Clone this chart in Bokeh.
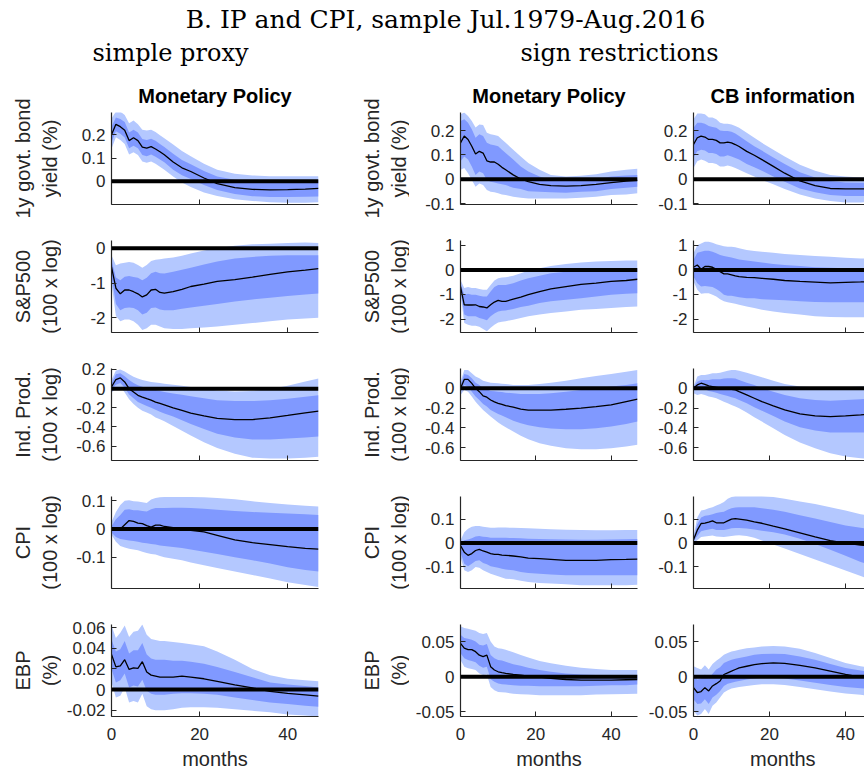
import math
from bokeh.plotting import figure
from bokeh.layouts import row, column
from bokeh.models import Range1d, FixedTicker, Span
from bokeh.core.properties import value
from bokeh.embed import file_html
from bokeh.resources import INLINE

# ---------------- data (horizon in months) ----------------
H = [0, 1, 2, 3, 4, 5, 6, 7, 8, 9, 10, 11, 12, 14, 16, 18, 21, 24, 28, 32, 36, 40, 44, 47]

# 1y govt. bond yield -- simple proxy
yld_sp_med = [0.200,0.245,0.235,0.220,0.175,0.187,0.175,0.147,0.143,0.149,0.139,0.127,0.114,0.083,0.058,0.042,0.014,-0.010,-0.027,-0.035,-0.037,-0.036,-0.034,-0.031]
yld_sp_hi90 = [0.270,0.300,0.300,0.285,0.250,0.262,0.245,0.222,0.218,0.222,0.212,0.198,0.185,0.158,0.130,0.108,0.075,0.050,0.032,0.025,0.022,0.022,0.022,0.022]
yld_sp_hi68 = [0.235,0.275,0.268,0.255,0.210,0.222,0.210,0.182,0.178,0.183,0.174,0.160,0.147,0.118,0.092,0.073,0.044,0.020,0.006,0.002,0.000,0.000,0.003,0.005]
yld_sp_lo68 = [0.168,0.215,0.205,0.188,0.142,0.153,0.142,0.113,0.108,0.115,0.105,0.094,0.082,0.050,0.026,0.010,-0.016,-0.038,-0.055,-0.064,-0.068,-0.068,-0.067,-0.066]
yld_sp_lo90 = [0.140,0.190,0.178,0.160,0.115,0.125,0.113,0.085,0.080,0.085,0.075,0.063,0.050,0.020,-0.005,-0.025,-0.048,-0.063,-0.077,-0.085,-0.090,-0.092,-0.092,-0.090]

# S&P500 -- simple proxy
spx_sp_med = [-0.54,-1.15,-1.31,-1.20,-1.20,-1.25,-1.31,-1.40,-1.34,-1.20,-1.18,-1.27,-1.29,-1.25,-1.18,-1.10,-1.03,-0.95,-0.90,-0.83,-0.75,-0.68,-0.63,-0.59]
spx_sp_hi90 = [-0.20,-0.49,-0.44,-0.42,-0.40,-0.42,-0.48,-0.56,-0.48,-0.37,-0.33,-0.32,-0.30,-0.27,-0.22,-0.15,-0.07,0.00,0.07,0.11,0.13,0.15,0.16,0.15]
spx_sp_hi68 = [-0.35,-0.84,-0.92,-0.82,-0.80,-0.83,-0.85,-0.92,-0.85,-0.72,-0.68,-0.72,-0.73,-0.68,-0.62,-0.56,-0.47,-0.38,-0.30,-0.25,-0.22,-0.20,-0.20,-0.20]
spx_sp_lo68 = [-0.80,-1.60,-1.78,-1.72,-1.70,-1.72,-1.78,-1.90,-1.85,-1.72,-1.70,-1.76,-1.78,-1.78,-1.74,-1.70,-1.65,-1.60,-1.53,-1.47,-1.42,-1.37,-1.33,-1.30]
spx_sp_lo90 = [-1.00,-1.95,-2.10,-2.05,-2.05,-2.10,-2.20,-2.35,-2.30,-2.20,-2.20,-2.25,-2.30,-2.32,-2.32,-2.30,-2.28,-2.25,-2.20,-2.15,-2.10,-2.05,-2.02,-2.00]

# Ind. Prod. -- simple proxy
ip_sp_med = [0.018,0.095,0.112,0.070,0.000,-0.035,-0.070,-0.088,-0.105,-0.120,-0.140,-0.155,-0.170,-0.200,-0.228,-0.256,-0.284,-0.310,-0.323,-0.323,-0.305,-0.280,-0.253,-0.235]
ip_sp_hi90 = [0.090,0.190,0.200,0.180,0.150,0.125,0.105,0.090,0.080,0.070,0.065,0.058,0.052,0.040,0.030,0.018,0.000,-0.020,-0.030,-0.025,-0.005,0.030,0.075,0.105]
ip_sp_hi68 = [0.050,0.150,0.160,0.130,0.090,0.060,0.035,0.020,0.005,-0.005,-0.015,-0.025,-0.035,-0.050,-0.065,-0.080,-0.100,-0.120,-0.130,-0.130,-0.120,-0.105,-0.085,-0.070]
ip_sp_lo68 = [-0.010,0.040,0.060,0.010,-0.060,-0.100,-0.140,-0.160,-0.180,-0.200,-0.220,-0.240,-0.260,-0.290,-0.330,-0.370,-0.420,-0.470,-0.510,-0.530,-0.530,-0.520,-0.510,-0.500]
ip_sp_lo90 = [-0.040,0.000,0.020,-0.040,-0.110,-0.160,-0.200,-0.230,-0.250,-0.270,-0.300,-0.320,-0.340,-0.390,-0.440,-0.490,-0.560,-0.620,-0.680,-0.720,-0.730,-0.730,-0.720,-0.710]

# CPI -- simple proxy
cpi_sp_med = [0.000,0.000,0.000,0.015,0.030,0.027,0.021,0.019,0.012,0.007,0.014,0.014,0.009,0.005,0.000,-0.005,-0.010,-0.022,-0.038,-0.048,-0.055,-0.062,-0.068,-0.071]
cpi_sp_hi90 = [0.025,0.060,0.085,0.100,0.102,0.098,0.097,0.095,0.092,0.104,0.110,0.112,0.113,0.113,0.113,0.113,0.112,0.110,0.105,0.098,0.092,0.087,0.082,0.080]
cpi_sp_hi68 = [0.010,0.035,0.050,0.068,0.070,0.066,0.066,0.064,0.062,0.070,0.074,0.074,0.074,0.075,0.075,0.074,0.072,0.068,0.064,0.060,0.058,0.055,0.052,0.050]
cpi_sp_lo68 = [-0.012,-0.028,-0.035,-0.038,-0.040,-0.042,-0.045,-0.048,-0.050,-0.053,-0.055,-0.058,-0.060,-0.063,-0.067,-0.072,-0.080,-0.088,-0.100,-0.110,-0.122,-0.135,-0.145,-0.150]
cpi_sp_lo90 = [-0.020,-0.045,-0.060,-0.065,-0.070,-0.072,-0.075,-0.080,-0.085,-0.088,-0.090,-0.095,-0.100,-0.105,-0.110,-0.118,-0.128,-0.138,-0.150,-0.162,-0.175,-0.188,-0.198,-0.205]

# EBP -- simple proxy
ebp_sp_med = [0.0340,0.0220,0.0230,0.0290,0.0195,0.0210,0.0205,0.0270,0.0170,0.0140,0.0130,0.0120,0.0120,0.0120,0.0130,0.0120,0.0105,0.0080,0.0046,0.0016,-0.0017,-0.0036,-0.0050,-0.0063]
ebp_sp_hi90 = [0.0620,0.0500,0.0550,0.0620,0.0510,0.0560,0.0570,0.0630,0.0530,0.0490,0.0480,0.0470,0.0470,0.0460,0.0450,0.0440,0.0420,0.0370,0.0290,0.0200,0.0140,0.0105,0.0090,0.0080]
ebp_sp_hi68 = [0.0485,0.0370,0.0390,0.0470,0.0350,0.0380,0.0380,0.0450,0.0340,0.0300,0.0290,0.0290,0.0290,0.0280,0.0280,0.0270,0.0250,0.0220,0.0170,0.0120,0.0070,0.0050,0.0035,0.0020]
ebp_sp_lo68 = [0.0200,0.0070,0.0090,0.0155,0.0020,0.0040,0.0030,0.0096,-0.0010,-0.0040,-0.0050,-0.0050,-0.0050,-0.0040,-0.0036,-0.0036,-0.0040,-0.0050,-0.0076,-0.0100,-0.0125,-0.0140,-0.0155,-0.0165]
ebp_sp_lo90 = [0.0070,-0.0076,-0.0060,0.0020,-0.0125,-0.0110,-0.0125,-0.0040,-0.0160,-0.0190,-0.0200,-0.0200,-0.0200,-0.0190,-0.0175,-0.0170,-0.0170,-0.0175,-0.0190,-0.0205,-0.0220,-0.0240,-0.0250,-0.0260]

# 1y govt. bond yield -- sign restrictions, monetary policy
yld_mp_med = [0.150,0.178,0.164,0.136,0.104,0.115,0.108,0.076,0.071,0.071,0.062,0.049,0.039,0.018,0.001,-0.010,-0.021,-0.026,-0.028,-0.026,-0.021,-0.014,-0.008,-0.005]
yld_mp_hi90 = [0.268,0.275,0.261,0.240,0.213,0.226,0.224,0.192,0.185,0.182,0.178,0.164,0.150,0.122,0.094,0.067,0.039,0.018,0.011,0.014,0.021,0.032,0.039,0.043]
yld_mp_hi68 = [0.240,0.247,0.233,0.206,0.171,0.185,0.178,0.150,0.143,0.140,0.136,0.122,0.108,0.081,0.053,0.032,0.011,-0.003,-0.007,-0.004,0.001,0.011,0.015,0.018]
yld_mp_lo68 = [0.074,0.094,0.081,0.053,0.018,0.032,0.025,-0.003,-0.010,-0.013,-0.017,-0.021,-0.024,-0.035,-0.040,-0.049,-0.051,-0.054,-0.056,-0.051,-0.049,-0.040,-0.035,-0.031]
yld_mp_lo90 = [0.039,0.046,0.025,-0.003,-0.031,-0.017,-0.024,-0.044,-0.051,-0.054,-0.058,-0.063,-0.065,-0.072,-0.076,-0.079,-0.079,-0.079,-0.079,-0.076,-0.072,-0.065,-0.063,-0.058]

# S&P500 -- sign restrictions, monetary policy
spx_mp_med = [-0.68,-1.42,-1.43,-1.43,-1.42,-1.49,-1.51,-1.55,-1.42,-1.31,-1.24,-1.28,-1.28,-1.19,-1.11,-1.01,-0.88,-0.77,-0.68,-0.59,-0.54,-0.47,-0.43,-0.38]
spx_mp_hi90 = [-0.41,-0.74,-0.70,-0.74,-0.74,-0.78,-0.81,-0.81,-0.61,-0.43,-0.34,-0.31,-0.30,-0.24,-0.14,-0.03,0.07,0.16,0.24,0.30,0.34,0.36,0.38,0.38]
spx_mp_hi68 = [-0.54,-1.01,-0.97,-1.01,-1.01,-1.05,-1.08,-1.08,-0.88,-0.70,-0.61,-0.61,-0.61,-0.54,-0.43,-0.34,-0.24,-0.14,-0.07,0.00,0.03,0.05,0.07,0.07]
spx_mp_lo68 = [-0.81,-1.82,-1.89,-1.89,-1.89,-1.96,-2.00,-2.05,-1.89,-1.78,-1.69,-1.66,-1.65,-1.59,-1.51,-1.46,-1.35,-1.28,-1.22,-1.15,-1.08,-1.01,-0.97,-0.95]
spx_mp_lo90 = [-0.95,-2.16,-2.23,-2.27,-2.27,-2.32,-2.41,-2.50,-2.36,-2.23,-2.14,-2.11,-2.09,-2.03,-1.96,-1.89,-1.82,-1.76,-1.69,-1.62,-1.59,-1.55,-1.51,-1.49]

# Ind. Prod. -- sign restrictions, monetary policy
ip_mp_med = [0.000,0.090,0.090,0.050,0.000,-0.034,-0.077,-0.090,-0.118,-0.138,-0.152,-0.162,-0.175,-0.190,-0.210,-0.220,-0.220,-0.220,-0.212,-0.200,-0.185,-0.168,-0.135,-0.110]
ip_mp_hi90 = [0.067,0.185,0.185,0.152,0.118,0.101,0.077,0.067,0.057,0.054,0.051,0.047,0.044,0.034,0.034,0.034,0.044,0.057,0.077,0.101,0.125,0.145,0.168,0.185]
ip_mp_hi68 = [0.034,0.145,0.135,0.101,0.057,0.034,0.000,-0.010,-0.027,-0.030,-0.034,-0.037,-0.044,-0.051,-0.057,-0.057,-0.057,-0.051,-0.034,-0.017,0.000,0.017,0.034,0.051]
ip_mp_lo68 = [-0.034,0.034,0.017,-0.034,-0.084,-0.118,-0.158,-0.185,-0.219,-0.239,-0.259,-0.276,-0.293,-0.327,-0.354,-0.374,-0.394,-0.407,-0.414,-0.414,-0.404,-0.387,-0.360,-0.337]
ip_mp_lo90 = [-0.067,-0.017,-0.034,-0.084,-0.135,-0.178,-0.219,-0.253,-0.286,-0.316,-0.347,-0.370,-0.394,-0.438,-0.481,-0.515,-0.556,-0.582,-0.606,-0.616,-0.616,-0.606,-0.589,-0.572]

# CPI -- sign restrictions, monetary policy
cpi_mp_med = [-0.010,-0.038,-0.051,-0.044,-0.031,-0.026,-0.033,-0.038,-0.044,-0.047,-0.047,-0.050,-0.051,-0.054,-0.058,-0.063,-0.065,-0.068,-0.072,-0.072,-0.072,-0.069,-0.068,-0.067]
cpi_mp_hi90 = [0.012,0.045,0.060,0.068,0.072,0.072,0.068,0.066,0.064,0.064,0.065,0.065,0.065,0.064,0.063,0.062,0.060,0.058,0.056,0.055,0.054,0.054,0.055,0.055]
cpi_mp_hi68 = [0.000,0.012,0.015,0.020,0.028,0.030,0.027,0.025,0.022,0.022,0.022,0.022,0.022,0.021,0.020,0.018,0.017,0.016,0.015,0.014,0.014,0.015,0.016,0.017]
cpi_mp_lo68 = [-0.038,-0.086,-0.097,-0.086,-0.075,-0.072,-0.083,-0.089,-0.097,-0.100,-0.103,-0.107,-0.111,-0.114,-0.121,-0.125,-0.128,-0.131,-0.135,-0.135,-0.135,-0.135,-0.135,-0.135]
cpi_mp_lo90 = [-0.058,-0.114,-0.121,-0.114,-0.100,-0.103,-0.114,-0.121,-0.128,-0.133,-0.139,-0.144,-0.149,-0.151,-0.158,-0.163,-0.167,-0.169,-0.172,-0.176,-0.176,-0.176,-0.176,-0.174]

# EBP -- sign restrictions, monetary policy
ebp_mp_med = [0.0480,0.0410,0.0390,0.0390,0.0360,0.0310,0.0290,0.0310,0.0145,0.0097,0.0072,0.0058,0.0048,0.0034,0.0024,0.0010,-0.0005,-0.0024,-0.0039,-0.0048,-0.0048,-0.0048,-0.0043,-0.0039]
ebp_mp_hi90 = [0.0725,0.0700,0.0690,0.0676,0.0660,0.0628,0.0614,0.0628,0.0507,0.0435,0.0411,0.0401,0.0386,0.0353,0.0314,0.0275,0.0227,0.0193,0.0159,0.0130,0.0111,0.0097,0.0097,0.0097]
ebp_mp_hi68 = [0.0604,0.0556,0.0546,0.0531,0.0507,0.0459,0.0449,0.0469,0.0314,0.0266,0.0242,0.0232,0.0217,0.0179,0.0159,0.0130,0.0097,0.0072,0.0048,0.0034,0.0024,0.0024,0.0024,0.0024]
ebp_mp_lo68 = [0.0338,0.0266,0.0242,0.0227,0.0208,0.0159,0.0130,0.0145,-0.0034,-0.0072,-0.0097,-0.0106,-0.0111,-0.0121,-0.0130,-0.0130,-0.0135,-0.0135,-0.0135,-0.0135,-0.0130,-0.0121,-0.0121,-0.0111]
ebp_mp_lo90 = [0.0242,0.0145,0.0121,0.0111,0.0097,0.0048,0.0024,0.0034,-0.0145,-0.0193,-0.0217,-0.0222,-0.0227,-0.0242,-0.0251,-0.0256,-0.0266,-0.0266,-0.0266,-0.0266,-0.0256,-0.0251,-0.0246,-0.0242]

# 1y govt. bond yield -- sign restrictions, CB information
yld_cb_med = [0.143,0.171,0.178,0.174,0.164,0.164,0.160,0.150,0.150,0.153,0.150,0.143,0.135,0.115,0.099,0.081,0.053,0.025,-0.007,-0.026,-0.038,-0.040,-0.040,-0.038]
yld_cb_hi90 = [0.247,0.271,0.271,0.268,0.254,0.254,0.247,0.233,0.229,0.229,0.226,0.219,0.212,0.192,0.171,0.150,0.122,0.094,0.060,0.035,0.018,0.011,0.007,0.007]
yld_cb_hi68 = [0.212,0.233,0.233,0.229,0.219,0.215,0.212,0.201,0.199,0.199,0.196,0.188,0.178,0.157,0.136,0.118,0.090,0.063,0.029,0.007,-0.007,-0.013,-0.014,-0.014]
yld_cb_lo68 = [0.090,0.115,0.122,0.118,0.108,0.108,0.104,0.094,0.094,0.099,0.094,0.088,0.081,0.063,0.049,0.035,0.011,-0.010,-0.038,-0.054,-0.065,-0.069,-0.069,-0.068]
yld_cb_lo90 = [0.046,0.074,0.081,0.076,0.067,0.067,0.063,0.053,0.053,0.057,0.053,0.046,0.039,0.025,0.011,-0.003,-0.021,-0.040,-0.063,-0.079,-0.090,-0.096,-0.096,-0.093]

# S&P500 -- sign restrictions, CB information
spx_cb_med = [0.11,0.20,0.03,0.14,0.14,0.11,0.03,-0.07,-0.16,-0.16,-0.20,-0.24,-0.27,-0.30,-0.31,-0.34,-0.38,-0.43,-0.47,-0.50,-0.53,-0.51,-0.49,-0.47]
spx_cb_hi90 = [0.68,1.01,1.08,1.15,1.15,1.11,1.05,1.01,0.97,0.95,0.95,0.92,0.88,0.81,0.77,0.74,0.70,0.65,0.61,0.57,0.54,0.50,0.47,0.45]
spx_cb_hi68 = [0.41,0.70,0.74,0.78,0.78,0.74,0.68,0.61,0.57,0.54,0.51,0.47,0.43,0.38,0.34,0.30,0.24,0.20,0.16,0.11,0.09,0.07,0.05,0.04]
spx_cb_lo68 = [-0.27,-0.54,-0.68,-0.65,-0.68,-0.70,-0.78,-0.88,-1.01,-1.05,-1.05,-1.08,-1.11,-1.15,-1.15,-1.19,-1.22,-1.24,-1.28,-1.31,-1.32,-1.32,-1.32,-1.32]
spx_cb_lo90 = [-0.47,-0.81,-0.97,-0.95,-0.95,-1.01,-1.08,-1.19,-1.28,-1.32,-1.35,-1.38,-1.42,-1.49,-1.55,-1.62,-1.69,-1.76,-1.82,-1.89,-1.92,-1.93,-1.93,-1.93]

# Ind. Prod. -- sign restrictions, CB information
ip_cb_med = [0.000,0.034,0.051,0.040,0.024,0.017,0.010,0.003,0.000,-0.003,-0.010,-0.017,-0.034,-0.067,-0.101,-0.135,-0.178,-0.219,-0.259,-0.279,-0.286,-0.279,-0.269,-0.259]
ip_cb_hi90 = [0.017,0.118,0.135,0.135,0.141,0.152,0.152,0.158,0.168,0.178,0.185,0.185,0.178,0.158,0.135,0.111,0.077,0.044,0.017,0.010,0.010,0.010,0.017,0.024]
ip_cb_hi68 = [0.010,0.067,0.084,0.084,0.084,0.091,0.091,0.091,0.098,0.101,0.101,0.098,0.084,0.057,0.034,0.000,-0.034,-0.067,-0.101,-0.118,-0.125,-0.118,-0.111,-0.101]
ip_cb_lo68 = [-0.017,-0.010,0.000,-0.010,-0.027,-0.034,-0.044,-0.057,-0.067,-0.077,-0.091,-0.101,-0.118,-0.152,-0.192,-0.226,-0.279,-0.337,-0.394,-0.428,-0.448,-0.448,-0.448,-0.441]
ip_cb_lo90 = [-0.051,-0.067,-0.057,-0.067,-0.084,-0.091,-0.101,-0.118,-0.135,-0.152,-0.168,-0.185,-0.202,-0.246,-0.293,-0.337,-0.404,-0.471,-0.549,-0.606,-0.657,-0.690,-0.707,-0.717]

# CPI -- sign restrictions, CB information
cpi_cb_med = [0.014,0.054,0.082,0.084,0.088,0.093,0.085,0.085,0.085,0.093,0.100,0.102,0.100,0.096,0.089,0.083,0.071,0.060,0.043,0.026,0.010,0.000,-0.008,-0.014]
cpi_cb_hi90 = [0.028,0.107,0.136,0.140,0.146,0.150,0.157,0.164,0.172,0.186,0.193,0.197,0.197,0.200,0.200,0.197,0.193,0.186,0.174,0.164,0.150,0.136,0.121,0.114]
cpi_cb_hi68 = [0.021,0.079,0.107,0.114,0.117,0.121,0.126,0.129,0.131,0.140,0.146,0.149,0.150,0.150,0.150,0.146,0.140,0.131,0.117,0.103,0.088,0.074,0.064,0.057]
cpi_cb_lo68 = [0.008,0.030,0.050,0.054,0.057,0.060,0.055,0.055,0.055,0.058,0.062,0.063,0.063,0.061,0.057,0.052,0.045,0.036,0.018,-0.004,-0.028,-0.053,-0.079,-0.095]
cpi_cb_lo90 = [0.000,0.012,0.025,0.028,0.030,0.032,0.028,0.027,0.026,0.028,0.030,0.032,0.033,0.030,0.022,0.011,-0.006,-0.023,-0.046,-0.069,-0.092,-0.115,-0.138,-0.155]

# EBP -- sign restrictions, CB information
ebp_cb_med = [-0.0156,-0.0226,-0.0212,-0.0156,-0.0203,-0.0132,-0.0099,-0.0061,0.0033,0.0057,0.0080,0.0104,0.0127,0.0151,0.0175,0.0189,0.0198,0.0193,0.0165,0.0127,0.0080,0.0033,-0.0005,-0.0014]
ebp_cb_hi90 = [0.0151,0.0127,0.0104,0.0165,0.0104,0.0184,0.0231,0.0269,0.0316,0.0340,0.0363,0.0373,0.0387,0.0410,0.0420,0.0434,0.0443,0.0434,0.0401,0.0340,0.0269,0.0198,0.0151,0.0127]
ebp_cb_hi68 = [0.0009,-0.0038,-0.0024,0.0033,-0.0024,0.0042,0.0104,0.0137,0.0198,0.0222,0.0245,0.0259,0.0269,0.0292,0.0316,0.0325,0.0330,0.0325,0.0292,0.0245,0.0184,0.0127,0.0090,0.0071]
ebp_cb_lo68 = [-0.0321,-0.0392,-0.0382,-0.0321,-0.0392,-0.0297,-0.0259,-0.0203,-0.0132,-0.0099,-0.0085,-0.0071,-0.0061,-0.0038,-0.0024,-0.0014,-0.0014,-0.0024,-0.0052,-0.0085,-0.0118,-0.0146,-0.0165,-0.0179]
ebp_cb_lo90 = [-0.0486,-0.0557,-0.0533,-0.0462,-0.0533,-0.0415,-0.0368,-0.0297,-0.0226,-0.0193,-0.0170,-0.0156,-0.0146,-0.0132,-0.0118,-0.0108,-0.0108,-0.0118,-0.0146,-0.0179,-0.0212,-0.0241,-0.0259,-0.0274]

# axis ticks and ranges
x_ticks = [0, 20, 40]
yld_ticks_sp = [0, 0.1, 0.2]
yld_ticks_sr = [-0.1, 0, 0.1, 0.2]
spx_ticks_sp = [-2, -1, 0]
spx_ticks_sr = [-2, -1, 0, 1]
ip_ticks_sp = [-0.6, -0.4, -0.2, 0, 0.2]
ip_ticks_sr = [-0.6, -0.4, -0.2, 0]
cpi_ticks = [-0.1, 0, 0.1]
ebp_ticks_sp = [-0.02, 0, 0.02, 0.04, 0.06]
ebp_ticks_sr = [-0.05, 0, 0.05]

yld_lim_sp, yld_lim_sr = (-0.100, 0.296), (-0.104, 0.275)
spx_lim_sp, spx_lim_sr = (-2.42, 0.22), (-2.55, 1.20)
ip_lim_sp, ip_lim_sr = (-0.75, 0.21), (-0.73, 0.20)
cpi_lim_sp, cpi_lim_sr = (-0.21, 0.115), (-0.19, 0.195)
ebp_lim_sp, ebp_lim_sr = (-0.026, 0.063), (-0.057, 0.075)

row_labels = [("1y govt. bond", "yield (%)"), ("S&P500", "(100 x log)"),
              ("Ind. Prod.", "(100 x log)"), ("CPI", "(100 x log)"), ("EBP", "(%)")]
col_titles = ["Monetary Policy", "Monetary Policy", "CB information"]
main_title = "B. IP and CPI, sample Jul.1979-Aug.2016"
group_titles = ["simple proxy", "sign restrictions"]
x_label = "months"

# ---------------- styling / layout constants ----------------
SANS = "Liberation Sans"
SERIF = "DejaVu Serif"
INK = "#262626"
OUTER = "#b4c8ff"
INNER = "#8099ff"

FRAME_H = 92
COLS = [dict(left=50, frame=207, right=40, xmax=47.0),
        dict(left=51, frame=177, right=6, xmax=47.0),
        dict(left=50, frame=171, right=0, xmax=45.0)]
TOPS = [3, 8, 8, 8, 8]
BOTTOMS = [28, 28, 28, 28, 32]
HEAD_H = 72
COLHEAD_H = 37
FOOT_H = 22
BODY_H = 698
LABEL_W = [61, 51]
LABEL_X = [(22, 49), (13, 40)]
ROW_PITCH = 128
FIRST_CENTER = 86  # from top of body to centre of first frame
TOTAL_W = 864

panels = [
    [("sp", yld_sp_lo90, yld_sp_lo68, yld_sp_med, yld_sp_hi68, yld_sp_hi90, yld_lim_sp, yld_ticks_sp),
     ("mp", yld_mp_lo90, yld_mp_lo68, yld_mp_med, yld_mp_hi68, yld_mp_hi90, yld_lim_sr, yld_ticks_sr),
     ("cb", yld_cb_lo90, yld_cb_lo68, yld_cb_med, yld_cb_hi68, yld_cb_hi90, yld_lim_sr, yld_ticks_sr)],
    [("sp", spx_sp_lo90, spx_sp_lo68, spx_sp_med, spx_sp_hi68, spx_sp_hi90, spx_lim_sp, spx_ticks_sp),
     ("mp", spx_mp_lo90, spx_mp_lo68, spx_mp_med, spx_mp_hi68, spx_mp_hi90, spx_lim_sr, spx_ticks_sr),
     ("cb", spx_cb_lo90, spx_cb_lo68, spx_cb_med, spx_cb_hi68, spx_cb_hi90, spx_lim_sr, spx_ticks_sr)],
    [("sp", ip_sp_lo90, ip_sp_lo68, ip_sp_med, ip_sp_hi68, ip_sp_hi90, ip_lim_sp, ip_ticks_sp),
     ("mp", ip_mp_lo90, ip_mp_lo68, ip_mp_med, ip_mp_hi68, ip_mp_hi90, ip_lim_sr, ip_ticks_sr),
     ("cb", ip_cb_lo90, ip_cb_lo68, ip_cb_med, ip_cb_hi68, ip_cb_hi90, ip_lim_sr, ip_ticks_sr)],
    [("sp", cpi_sp_lo90, cpi_sp_lo68, cpi_sp_med, cpi_sp_hi68, cpi_sp_hi90, cpi_lim_sp, cpi_ticks),
     ("mp", cpi_mp_lo90, cpi_mp_lo68, cpi_mp_med, cpi_mp_hi68, cpi_mp_hi90, cpi_lim_sr, cpi_ticks),
     ("cb", cpi_cb_lo90, cpi_cb_lo68, cpi_cb_med, cpi_cb_hi68, cpi_cb_hi90, cpi_lim_sr, cpi_ticks)],
    [("sp", ebp_sp_lo90, ebp_sp_lo68, ebp_sp_med, ebp_sp_hi68, ebp_sp_hi90, ebp_lim_sp, ebp_ticks_sp),
     ("mp", ebp_mp_lo90, ebp_mp_lo68, ebp_mp_med, ebp_mp_hi68, ebp_mp_hi90, ebp_lim_sr, ebp_ticks_sr),
     ("cb", ebp_cb_lo90, ebp_cb_lo68, ebp_cb_med, ebp_cb_hi68, ebp_cb_hi90, ebp_lim_sr, ebp_ticks_sr)],
]


def blank(**kw):
    return figure(x_axis_type=None, y_axis_type=None, toolbar_location=None,
                  output_backend="svg", outline_line_color=None, min_border=0, **kw)


def text_kw(size, font=SANS, style="normal", **extra):
    d = dict(text_font=value(font), text_font_size=value(size), text_font_style=style,
             text_color=INK, text_align="center", text_baseline="middle")
    d.update(extra)
    return d


def make_panel(ci, ri, xr, spec):
    _, lo90, lo68, med, hi68, hi90, lim, ticks = spec
    c = COLS[ci]
    p = figure(frame_width=c["frame"], frame_height=FRAME_H,
               min_border_left=c["left"], min_border_right=c["right"],
               min_border_top=TOPS[ri], min_border_bottom=BOTTOMS[ri],
               x_range=xr, y_range=Range1d(*lim), toolbar_location=None,
               output_backend="svg", outline_line_color=None)
    p.grid.visible = False
    p.varea(x=H, y1=lo90, y2=hi90, fill_color=OUTER)
    p.varea(x=H, y1=lo68, y2=hi68, fill_color=INNER)
    p.add_layout(Span(location=0, dimension="width", line_color="black", line_width=4))
    p.line(H, med, line_color="black", line_width=1.3)
    for ax in (p.xaxis[0], p.yaxis[0]):
        ax.axis_line_color = INK
        ax.axis_line_width = 1.2
        ax.major_tick_line_color = INK
        ax.major_tick_in = 5
        ax.major_tick_out = 0
        ax.minor_tick_line_color = None
        ax.major_label_text_font = SANS
        ax.major_label_text_font_size = "17px"
        ax.major_label_text_color = INK
    p.xaxis.ticker = FixedTicker(ticks=x_ticks)
    p.yaxis.ticker = FixedTicker(ticks=ticks)
    p.yaxis.major_label_overrides = {t: "%g" % t for t in ticks}
    p.yaxis.major_label_standoff = 6
    if ri == len(panels) - 1:
        p.xaxis.major_label_standoff = 11
    else:
        p.xaxis.major_label_overrides = {t: "" for t in x_ticks}
        p.xaxis.major_label_standoff = 0
    return p


def col_strip(ci, xr, height, txt, ypos, **kw):
    c = COLS[ci]
    p = blank(frame_width=c["frame"], frame_height=height,
              min_border_left=c["left"], min_border_right=c["right"],
              x_range=xr, y_range=Range1d(0, height))
    p.text(x=[H[-1] / 2], y=[ypos], text=[txt], **kw)
    return p


# header
header = blank(width=TOTAL_W, height=HEAD_H, x_range=Range1d(0, TOTAL_W), y_range=Range1d(0, HEAD_H))
header.text(x=[445], y=[HEAD_H - 19], text=[main_title], **text_kw("25px", SERIF, text_color="black"))
header.text(x=[170, 619], y=[HEAD_H - 52, HEAD_H - 52], text=group_titles,
            **text_kw("24px", SERIF, text_color="black"))

# y label strips
label_figs = []
for li in range(2):
    w = LABEL_W[li]
    lf = blank(width=w, height=BODY_H, x_range=Range1d(0, w), y_range=Range1d(0, BODY_H))
    xs, ys, ts = [], [], []
    for ri, (l1, l2) in enumerate(row_labels):
        yc = BODY_H - (FIRST_CENTER + ri * ROW_PITCH)
        xs += [LABEL_X[li][0], LABEL_X[li][1]]
        ys += [yc, yc]
        ts += [l1, l2]
    lf.text(x=xs, y=ys, text=ts, angle=math.pi / 2, **text_kw("20px"))
    label_figs.append(lf)

# plot columns
plot_cols = []
for ci in range(3):
    xr = Range1d(0, COLS[ci]["xmax"])
    items = [col_strip(ci, xr, COLHEAD_H, col_titles[ci], COLHEAD_H - 23,
                       **text_kw("20px", style="bold", text_color="black"))]
    for ri in range(len(panels)):
        items.append(make_panel(ci, ri, xr, panels[ri][ci]))
    items.append(col_strip(ci, xr, FOOT_H, x_label, 12, **text_kw("20px")))
    plot_cols.append(column(*items, spacing=0))

body = row(label_figs[0], plot_cols[0], label_figs[1], plot_cols[1], plot_cols[2], spacing=0)
layout = column(header, body, spacing=0)

open("out.html", "w").write(file_html(layout, INLINE))
